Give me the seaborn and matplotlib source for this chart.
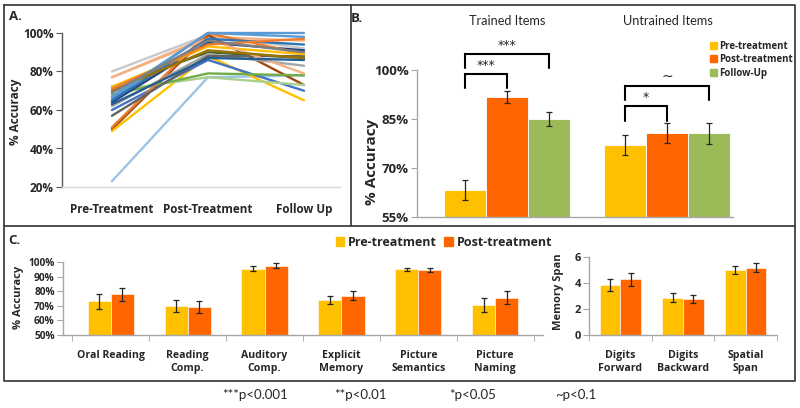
"""Three-panel treatment outcome figure (A: individual lines, B/C: group bars)."""

import matplotlib
matplotlib.use("Agg")
from matplotlib import pyplot as plt
from matplotlib.lines import Line2D
from matplotlib.patches import Patch
import numpy as np
import pandas as pd
import seaborn as sns

# ---- panel A: individual participants, % accuracy
phases_a = ["Pre-Treatment", "Post-Treatment", "Follow Up"]
pre_a = [23, 80, 77, 50, 49, 60, 70, 68, 72, 66, 64, 62, 51, 57, 72, 77, 65, 63, 70, 71, 67, 69]
post_a = [77, 99, 98, 99, 88, 86, 77, 79, 90, 100, 95, 89, 100, 88, 93, 97, 97, 87, 91, 94, 100, 96]
follow_a = [78, 92, 96, 73, 65, 70, 73, 78, 87, 100, 91, 83, 89, 88, 89, 79, 94, 86, 87, 97, 98, 90]
line_colors = ["#9dc3e6", "#c9c9c9", "#f4b183", "#9e480e", "#ffc000", "#4472c4",
               "#a9d18e", "#70ad47", "#43682b", "#5b9bd5", "#264478", "#a5a5a5",
               "#ed7d31", "#636363", "#ffc000", "#f4b183", "#2e75b6", "#255e91",
               "#997300", "#ed7d31", "#5b9bd5", "#7f7f7f"]

# ---- panel B: trained vs untrained items
groups_b = ["Trained Items", "Untrained Items"]
phases_b = ["Pre-treatment", "Post-treatment", "Follow-Up"]
trained_b = [63.3, 91.8, 84.9]
trained_err = [3.0, 1.8, 2.2]
untrained_b = [77.0, 80.6, 80.6]
untrained_err = [3.1, 3.1, 3.3]

# ---- panel C: standardized tests
tasks_c = ["Oral Reading", "Reading\nComp.", "Auditory\nComp.", "Explicit\nMemory",
           "Picture\nSemantics", "Picture\nNaming"]
pre_c = [73, 70, 95.5, 74, 95, 70.5]
post_c = [78, 69, 97.5, 77, 94.5, 75.5]
pre_c_err = [5, 4, 1.5, 3, 1, 5]
post_c_err = [4.5, 4, 1.5, 3, 1.3, 4.5]

span_tasks = ["Digits\nForward", "Digits\nBackward", "Spatial\nSpan"]
pre_span = [3.88, 2.86, 5.0]
post_span = [4.29, 2.76, 5.18]
pre_span_err = [0.46, 0.35, 0.3]
post_span_err = [0.5, 0.3, 0.35]

phases_c = ["Pre-treatment", "Post-treatment"]
footnotes = ["***p<0.001", "**p<0.01", "*p<0.05", "~p<0.1"]

YELLOW, ORANGE, GREEN = "#ffc000", "#ff6600", "#9bbb59"
AXIS_GRAY = "#a6a6a6"

sns.set_style("white")
plt.rcParams["font.family"] = ["Open Sans", "DejaVu Sans"]
plt.rcParams["font.weight"] = "bold"

W, H = 800, 408
fig = plt.figure(figsize=(W / 100, H / 100), dpi=100)


def px_axes(l, t, r, b):
    return fig.add_axes([l / W, 1 - b / H, (r - l) / W, (b - t) / H])


def px_text(x, y, s, **kw):
    fig.text(x / W, 1 - y / H, s, **kw)


def style_axis(ax, left_color=AXIS_GRAY):
    for side in ["top", "right"]:
        ax.spines[side].set_visible(False)
    ax.spines["left"].set_color(left_color)
    ax.spines["bottom"].set_color(AXIS_GRAY)
    ax.spines["left"].set_linewidth(1)
    ax.spines["bottom"].set_linewidth(1)
    ax.tick_params(axis="y", which="major", left=True, direction="out", length=4,
                   color=left_color, pad=2)
    ax.tick_params(axis="x", which="major", bottom=False, pad=3)
    ax.set_xlabel("")
    ax.set_ylabel("")


def add_errorbars(ax, err_lists):
    for cont, errs in zip(ax.containers, err_lists):
        xs = [b.get_x() + b.get_width() / 2 for b in cont]
        ys = [b.get_height() for b in cont]
        ax.errorbar(xs, ys, yerr=errs, fmt="none", ecolor="#262626",
                    elinewidth=0.9, capsize=2, capthick=0.9, zorder=3)


# ================= panel A =================
ax_a = px_axes(62, 33, 340, 187)
df_a = pd.DataFrame({
    "pid": np.repeat(np.arange(len(pre_a)), 3),
    "phase": np.tile(np.arange(3), len(pre_a)),
    "acc": np.column_stack([pre_a, post_a, follow_a]).ravel(),
})
sns.lineplot(data=df_a, x="phase", y="acc", hue="pid", palette=line_colors,
             legend=False, linewidth=1.7, ax=ax_a, clip_on=False)
ax_a.set_xlim(-0.52, 2.375)
ax_a.set_ylim(20, 100)
ax_a.set_yticks([20, 40, 60, 80, 100])
ax_a.set_yticklabels([f"{v}%" for v in [20, 40, 60, 80, 100]], fontsize=8.5)
ax_a.set_xticks(range(3))
ax_a.set_xticklabels(phases_a, fontsize=8.4)
style_axis(ax_a, left_color="#595959")
ax_a.spines["bottom"].set_color("#d9d9d9")
ax_a.tick_params(axis="x", pad=8)

# ================= panel B =================
ax_b = px_axes(417, 47, 733, 217)
df_b = pd.DataFrame({
    "group": np.repeat(groups_b, 3),
    "phase": phases_b * 2,
    "acc": trained_b + untrained_b,
})
sns.barplot(data=df_b, x="group", y="acc", hue="phase", hue_order=phases_b,
            palette=[YELLOW, ORANGE, GREEN], width=0.79, errorbar=None,
            saturation=1, edgecolor="white", linewidth=0.6, ax=ax_b)
ax_b.legend_.remove()
add_errorbars(ax_b, [[trained_err[i], untrained_err[i]] for i in range(3)])
ax_b.set_ylim(55, 107)
ax_b.set_xlim(-0.5625, 1.4125)
ax_b.set_yticks([55, 70, 85, 100])
ax_b.set_yticklabels([f"{v}%" for v in [55, 70, 85, 100]], fontsize=9.5)
ax_b.set_xticks([])
style_axis(ax_b)
ax_b.spines["left"].set_bounds(55, 100)

# significance brackets: (group index, hue a, hue b, label, bracket level)
sig_b = [(0, 0, 1, "***", 98.8), (0, 0, 2, "***", 104.9),
         (1, 0, 1, "*", 88.9), (1, 0, 2, "~", 95.1)]
for g, h1, h2, lab, lvl in sig_b:
    b1, b2 = ax_b.containers[h1][g], ax_b.containers[h2][g]
    x1 = b1.get_x() + b1.get_width() / 2
    x2 = b2.get_x() + b2.get_width() / 2
    ax_b.plot([x1, x1, x2, x2], [lvl - 4.4, lvl, lvl, lvl - 4.4], color="black",
              lw=1.5, clip_on=False, solid_joinstyle="miter")
    ax_b.text((x1 + x2) / 2, lvl + 0.6, lab, ha="center", va="bottom",
              fontsize=9 if lab != "~" else 10, fontweight="normal",
              family="DejaVu Sans", clip_on=False)

for name, xc in zip(groups_b, [507, 668]):
    px_text(xc, 21, name, ha="center", va="center", fontsize=9.2,
            fontweight="normal", family="Lato")

leg_b = ax_b.legend(handles=[Patch(color=c, label=l) for c, l in
                             zip([YELLOW, ORANGE, GREEN], phases_b)],
                    loc="upper left", bbox_to_anchor=(705 / W, 1 - 36 / H),
                    bbox_transform=fig.transFigure, frameon=False, fontsize=7,
                    handlelength=0.7, handleheight=0.7, handletextpad=0.3,
                    labelspacing=0.25, borderpad=0)
for t in leg_b.get_texts():
    t.set_fontweight("bold")

# ================= panel C (left) =================
ax_c = px_axes(63, 262, 543, 335)
df_c = pd.DataFrame({
    "task": tasks_c * 2,
    "phase": np.repeat(phases_c, len(tasks_c)),
    "acc": pre_c + post_c,
})
sns.barplot(data=df_c, x="task", y="acc", hue="phase", hue_order=phases_c,
            palette=[YELLOW, ORANGE], width=0.6, errorbar=None, saturation=1,
            edgecolor="white", linewidth=0.4, ax=ax_c)
ax_c.legend_.remove()
add_errorbars(ax_c, [pre_c_err, post_c_err])
ax_c.set_ylim(50, 100)
ax_c.set_xlim(-0.62, len(tasks_c) - 0.38)
ax_c.set_yticks(range(50, 101, 10))
ax_c.set_yticklabels([f"{v}%" for v in range(50, 101, 10)], fontsize=7.3)
ax_c.set_xticks(range(len(tasks_c)))
ax_c.set_xticklabels(tasks_c, fontsize=7.6, linespacing=1.3)
ax_c.set_xticks(np.arange(-0.5, len(tasks_c), 1), minor=True)
style_axis(ax_c)
ax_c.tick_params(axis="x", which="minor", bottom=True, direction="out",
                 length=4, color=AXIS_GRAY)
ax_c.tick_params(axis="x", which="major", pad=7)

# ================= panel C (right) =================
ax_s = px_axes(589, 257, 777, 335)
df_s = pd.DataFrame({
    "task": span_tasks * 2,
    "phase": np.repeat(phases_c, len(span_tasks)),
    "span": pre_span + post_span,
})
sns.barplot(data=df_s, x="task", y="span", hue="phase", hue_order=phases_c,
            palette=[YELLOW, ORANGE], width=0.66, errorbar=None, saturation=1,
            edgecolor="white", linewidth=0.4, ax=ax_s)
ax_s.legend_.remove()
add_errorbars(ax_s, [pre_span_err, post_span_err])
ax_s.set_ylim(0, 6)
ax_s.set_xlim(-0.5, 2.5)
ax_s.set_yticks([0, 2, 4, 6])
ax_s.set_yticklabels(["0", "2", "4", "6"], fontsize=8)
ax_s.set_xticks(range(3))
ax_s.set_xticklabels(span_tasks, fontsize=7.6, linespacing=1.3)
ax_s.set_xticks(np.arange(-0.5, 3, 1), minor=True)
style_axis(ax_s)
ax_s.tick_params(axis="x", which="minor", bottom=True, direction="out",
                 length=4, color=AXIS_GRAY)
ax_s.tick_params(axis="x", which="major", pad=7)

leg_c = fig.legend(handles=[Patch(color=c, label=l) for c, l in
                            zip([YELLOW, ORANGE], phases_c)],
                   loc="center", bbox_to_anchor=(444 / W, 1 - 242 / H), ncol=2,
                   frameon=False, fontsize=9, handlelength=0.7, handleheight=0.7,
                   handletextpad=0.3, columnspacing=0.6, borderpad=0)
for t in leg_c.get_texts():
    t.set_fontweight("bold")

# ---- axis titles and panel letters
ylab_kw = dict(rotation=90, ha="center", va="center", fontweight="bold")
px_text(15, 112, "% Accuracy", fontsize=8.5, **ylab_kw)
px_text(372, 162, "% Accuracy", fontsize=11, **ylab_kw)
px_text(18, 297, "% Accuracy", fontsize=8, **ylab_kw)
px_text(559, 292, "Memory Span", fontsize=8, **ylab_kw)

for lab, x, y in [("A.", 15, 16), ("B.", 357, 18), ("C.", 14, 241)]:
    px_text(x, y, lab, fontsize=9.5, fontweight="bold", ha="center", va="center")

for s, xc in zip(footnotes, [255, 360, 473, 576]):
    px_text(xc, 395, s, fontsize=9.5, fontweight="normal", family="Lato",
            ha="center", va="center")

# ---- panel frames
frame_kw = dict(color="#404040", lw=1.3, transform=fig.transFigure)
for xs, ys in [([4, 795, 795, 4, 4], [5, 5, 381, 381, 5]),
               ([351, 351], [5, 226]),
               ([4, 795], [226, 226])]:
    fig.add_artist(Line2D([x / W for x in xs], [1 - y / H for y in ys], **frame_kw))

fig.savefig("out.png", dpi=100)
